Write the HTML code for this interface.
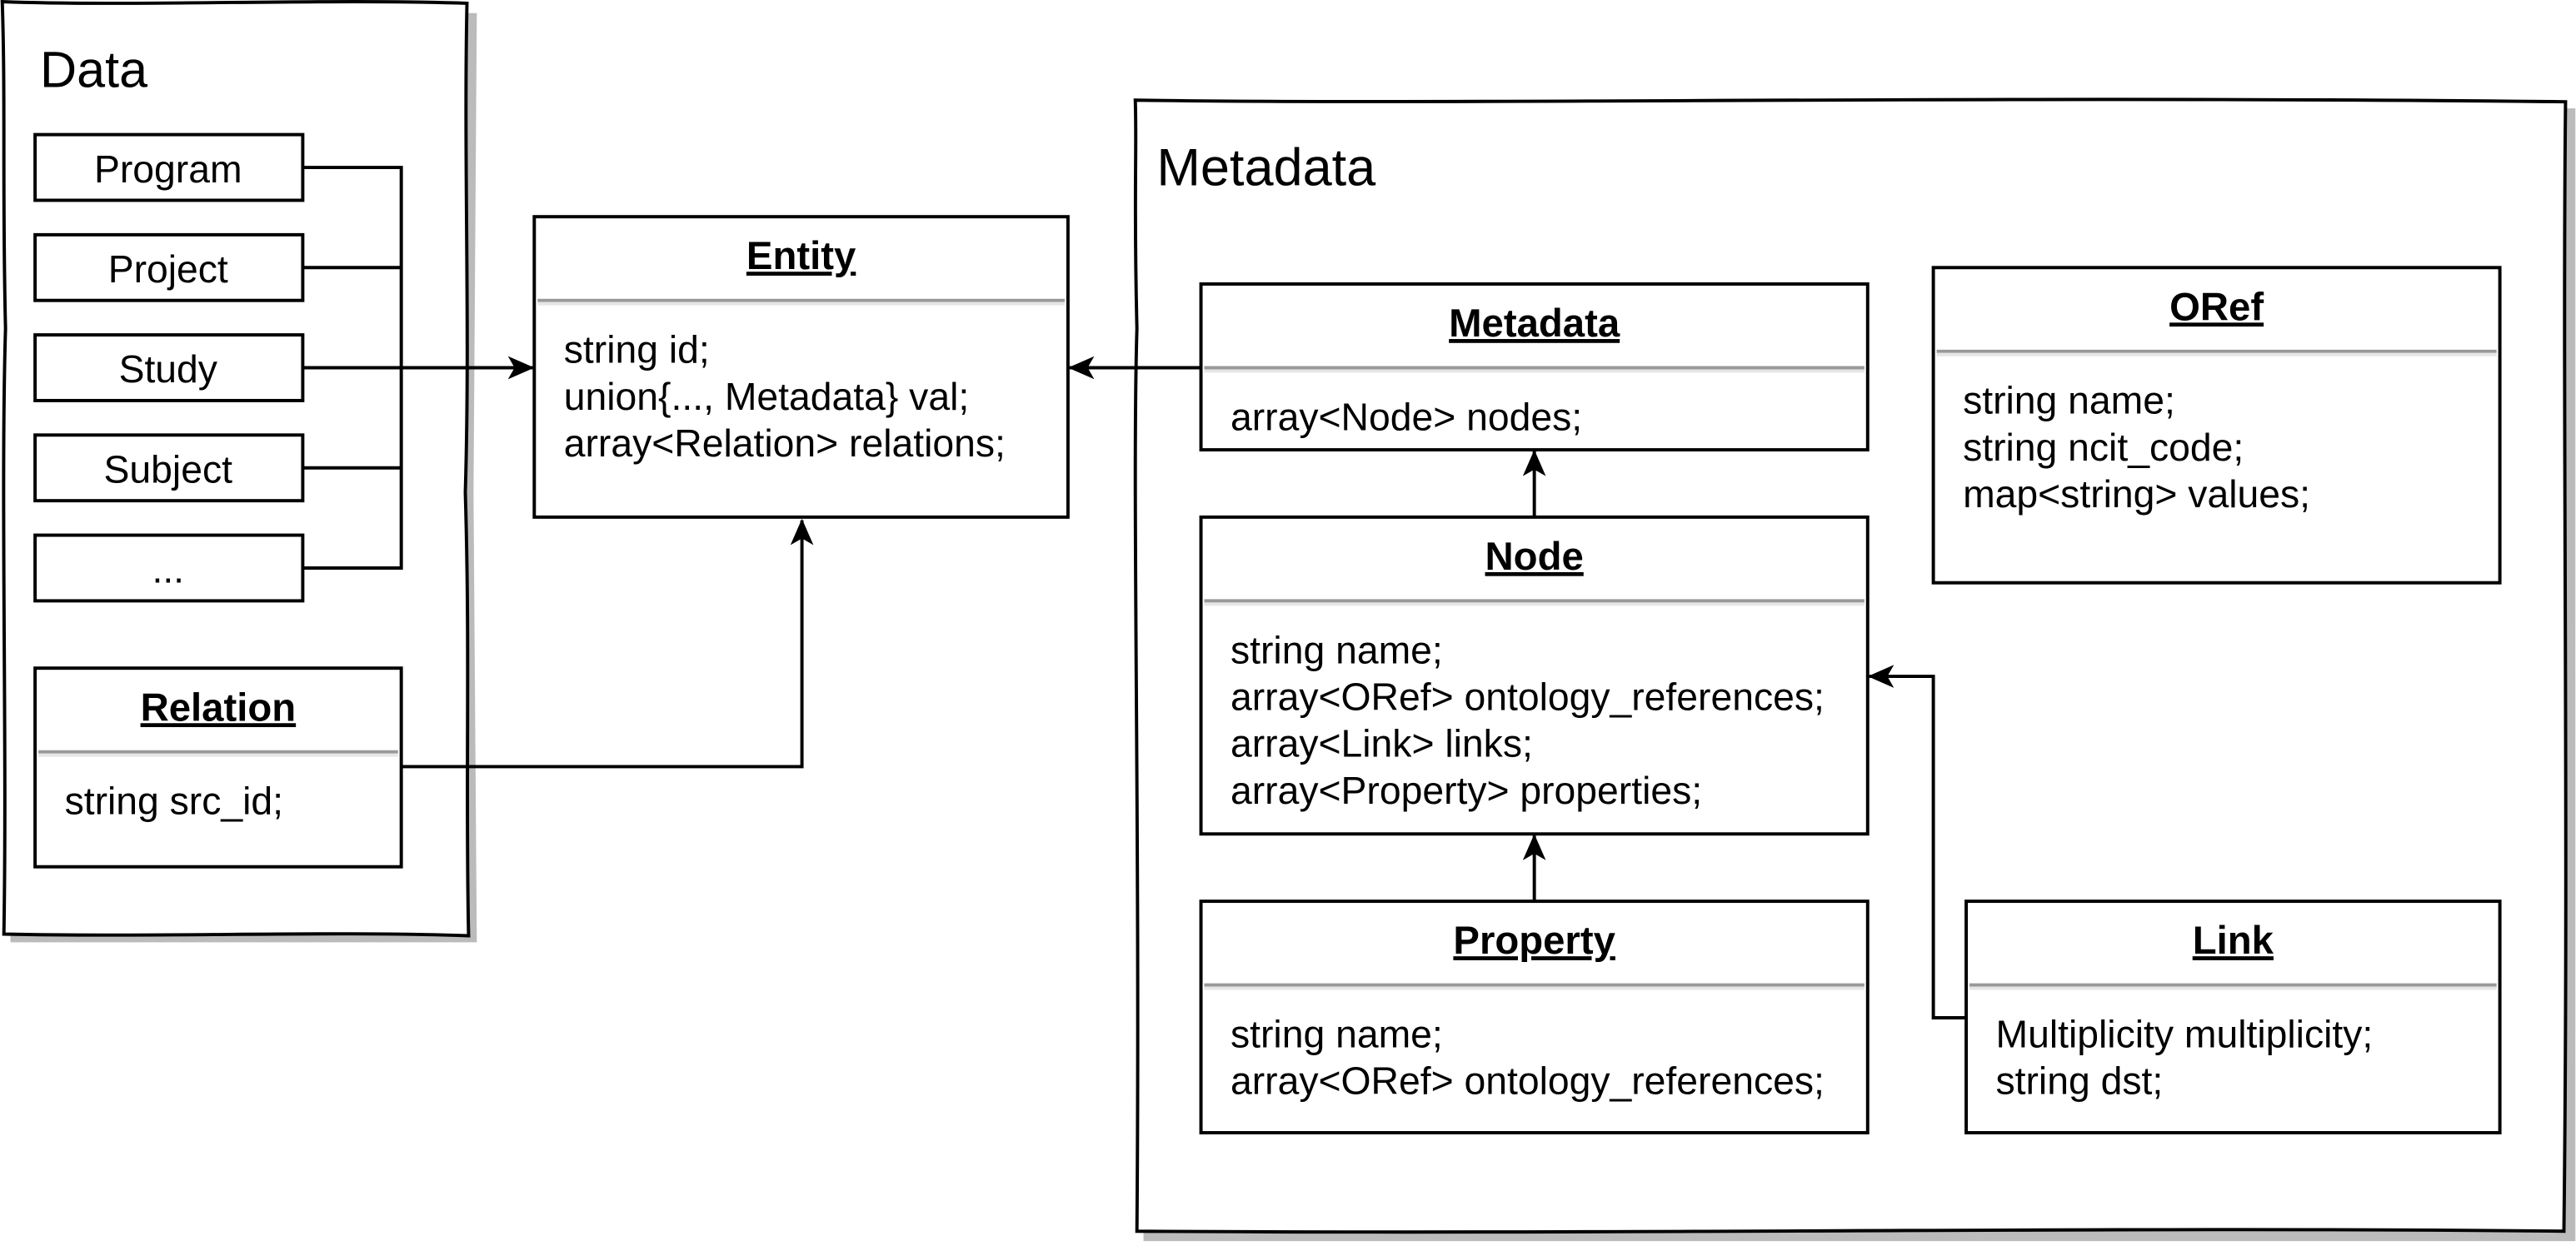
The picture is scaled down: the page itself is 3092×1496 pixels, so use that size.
<!DOCTYPE html>
<html><head><meta charset="utf-8"><style>
html,body{margin:0;padding:0;background:#fff}
svg{display:block}
text{font-family:"Liberation Sans",Arial,sans-serif;fill:#000}
.t{font-size:23.5px}
.h{font-size:24px;font-weight:bold;text-decoration:underline}
</style></head><body>
<svg width="3092" height="1496" viewBox="0 0 1568 759" xmlns="http://www.w3.org/2000/svg">
<defs>
<marker id="ar" markerWidth="16" markerHeight="14" refX="15" refY="7" orient="auto" markerUnits="userSpaceOnUse"><path d="M0,0 L16,7 L0,14 L4,7 Z" fill="#000"/></marker>
</defs>
<g>
<path d="M6,6 L290,8 L288,300 L290,574 L6,574 Z" fill="#bbb"/>
<path d="M1,1 C80,4 200,-1 284,2 C282,100 286,200 283,300 C286,400 283,480 285,570 C200,567 100,571 2,569 C4,450 0,300 3,200 C1,120 3,60 1,1 Z" fill="#fff" stroke="#000" stroke-width="2"/>
<text x="24" y="53" style="font-size:31px">Data</text>
</g>
<g>
<path d="M696,66 L1568,66 L1568,756 L696,756 Z" fill="#bbb"/>
<path d="M691,61 C900,64 1200,58 1562,62 C1560,250 1564,500 1561,750 C1300,747 1000,752 692,750 C694,500 689,300 692,200 C690,120 692,90 691,61 Z" fill="#fff" stroke="#000" stroke-width="2"/>
<text x="704" y="113" style="font-size:32px">Metadata</text>
</g>
<g fill="none" stroke="#000" stroke-width="2">
<path d="M184,102 H244 V346 H184 M184,163 H244 M184,285 H244"/>
<path d="M184,224 H324" marker-end="url(#ar)"/>
<path d="M244,467 H488 V317" marker-end="url(#ar)"/>
<path d="M731,224 H651" marker-end="url(#ar)"/>
<path d="M934,315 V275" marker-end="url(#ar)"/>
<path d="M934,549 V509" marker-end="url(#ar)"/>
<path d="M1197,620 H1177 V412 H1138" marker-end="url(#ar)"/>
</g>
<g stroke="#000" stroke-width="2" fill="#fff">
<rect x="21" y="82" width="163" height="40"/>
<rect x="21" y="143" width="163" height="40"/>
<rect x="21" y="204" width="163" height="40"/>
<rect x="21" y="265" width="163" height="40"/>
<rect x="21" y="326" width="163" height="40"/>
</g>
<g text-anchor="middle">
<text x="102" y="111" class="t">Program</text>
<text x="102" y="172" class="t">Project</text>
<text x="102" y="233" class="t">Study</text>
<text x="102" y="294" class="t">Subject</text>
<text x="102" y="355" class="t">...</text>
</g>
<g id="classes"></g>
</svg>
<script>
const boxes=[
 {n:'relation',x:21,y:407,w:223,h:121,title:'Relation',lines:['string src_id;']},
 {n:'entity',x:325,y:132,w:325,h:183,title:'Entity',lines:['string id;','union{..., Metadata} val;','array<Relation> relations;']},
 {n:'metadata',x:731,y:173,w:406,h:101,title:'Metadata',lines:['array<Node> nodes;']},
 {n:'node',x:731,y:315,w:406,h:193,title:'Node',lines:['string name;','array<ORef> ontology_references;','array<Link> links;','array<Property> properties;']},
 {n:'property',x:731,y:549,w:406,h:141,title:'Property',lines:['string name;','array<ORef> ontology_references;']},
 {n:'oref',x:1177,y:163,w:345,h:192,title:'ORef',lines:['string name;','string ncit_code;','map<string> values;']},
 {n:'link',x:1197,y:549,w:325,h:141,title:'Link',lines:['Multiplicity multiplicity;','string dst;']}
];
const NS='http://www.w3.org/2000/svg';
const g=document.getElementById('classes');
function mk(t,a){const e=document.createElementNS(NS,t);for(const k in a)e.setAttribute(k,a[k]);return e;}
boxes.forEach(b=>{
 const grp=mk('g',{});
 
 
 grp.appendChild(mk('rect',{x:b.x,y:b.y,width:b.w,height:b.h,fill:'#fff',stroke:'#000','stroke-width':2}));
 grp.appendChild(mk('line',{x1:b.x+2,x2:b.x+b.w-2,y1:b.y+51,y2:b.y+51,stroke:'#999','stroke-width':2}));
 grp.appendChild(mk('line',{x1:b.x+2,x2:b.x+b.w-2,y1:b.y+53,y2:b.y+53,stroke:'#e6e6e6','stroke-width':2}));
 const t=mk('text',{x:b.x+b.w/2,y:b.y+32,'text-anchor':'middle',class:'h'});
 t.textContent=b.title;
 
 
 grp.appendChild(t);
 b.lines.forEach((l,i)=>{
  const tx=mk('text',{x:b.x+18,y:b.y+89+i*28.5,class:'t'});
  tx.textContent=l;
  
  
  grp.appendChild(tx);
 });
 g.appendChild(grp);
});
</script>
</body></html>
